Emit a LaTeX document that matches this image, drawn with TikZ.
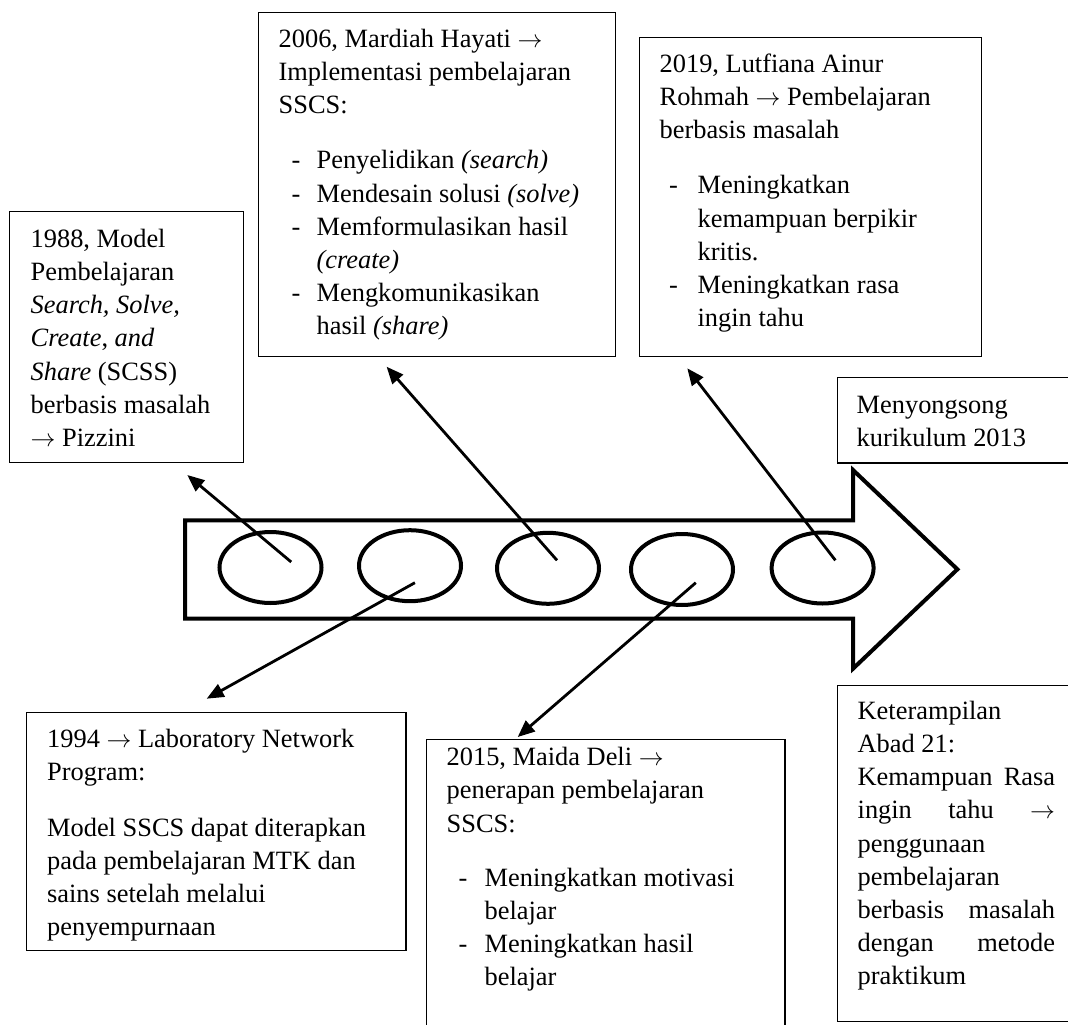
\documentclass[tikz,border=0pt]{standalone}
\usepackage{fontspec}
\setmainfont{Liberation Serif}
\usetikzlibrary{arrows.meta,shapes.geometric}
\newcommand\myitem[2][12]{\mbox{\hspace*{#1pt}\makebox[\dimexpr 38pt-#1pt\relax][l]{-}#2}}
\newcommand\mycont[1]{\mbox{\hspace*{38pt}#1}}
\newcommand\jline[1]{\makebox[197.4pt][s]{#1}}
\newcommand\ar{$\rightarrow$}
\begin{document}
\begin{tikzpicture}[x=1pt,y=-1pt,
  tbox/.style={draw=black, line width=1.3pt, fill=white, anchor=north west, inner sep=0pt,
    font=\fontsize{26.4}{33.2}\selectfont},
  ell/.style={ellipse, draw=black, line width=4pt, fill=white, minimum width=102pt, minimum height=71pt, inner sep=0pt},
  conn/.style={line width=2.8pt, -{Triangle[length=17pt,width=14pt]}},
  barrow/.style={draw=black, line width=4pt, fill=white, line join=miter}
]
\useasboundingbox (0,0) rectangle (1068,1025);
\clip (0,0) rectangle (1068,1025);
\fill[white] (0,0) rectangle (1068,1025);

% big block arrow
\draw[barrow] (185,520.3) -- (853,520.3) -- (853,470) -- (957.4,569.3) -- (853,668.7) -- (853,618.7) -- (185,618.7) -- cycle;

% circles on the arrow
\node[ell] (e1) at (270.5,567.5) {};
\node[ell] (e2) at (410,565.7) {};
\node[ell] (e3) at (548,568.3) {};
\node[ell] (e4) at (682,569.5) {};
\node[ell] (e5) at (822.6,568) {};

% text boxes
\node[tbox, inner xsep=21pt, inner ysep=12.5pt] (b1988) at (9,211)
 {\parbox[t][226pt][t]{192pt}{\strut\mbox{1988, Model}\\
  \mbox{Pembelajaran}\\
  \mbox{\textit{Search, Solve,}}\\
  \mbox{\textit{Create}, \textit{and}}\\
  \mbox{\textit{Share} (SCSS)}\\
  \mbox{berbasis masalah}\\
  \mbox{\ar{} Pizzini}}};

\node[tbox, inner xsep=20pt, inner ysep=11.5pt] (b2006) at (258,12)
 {\parbox[t][321pt][t]{317pt}{\strut\mbox{2006, Mardiah Hayati \ar}\\
  \mbox{Implementasi pembelajaran}\\
  \mbox{SSCS:}\\[22pt]
  \myitem[13]{Penyelidikan \textit{(search)}}\\
  \myitem[13]{Mendesain solusi \textit{(solve)}}\\
  \myitem[13]{Memformulasikan hasil}\\
  \mycont{\textit{(create)}}\\
  \myitem[13]{Mengkomunikasikan}\\
  \mycont{hasil \textit{(share)}}}};

\node[tbox, inner xsep=20pt, inner ysep=11.5pt] (b2019) at (639,37)
 {\parbox[t][296pt][t]{302pt}{\strut\mbox{2019, Lutfiana Ainur}\\
  \mbox{Rohmah \ar{} Pembelajaran}\\
  \mbox{berbasis masalah}\\[22pt]
  \myitem[9.5]{Meningkatkan}\\
  \mycont{kemampuan berpikir}\\
  \mycont{kritis.}\\
  \myitem[9.5]{Meningkatkan rasa}\\
  \mycont{ingin tahu}}};

\node[tbox, inner xsep=19.5pt, inner ysep=13pt] (bkur) at (836.5,376.7)
 {\parbox[t][59.6pt][t]{204.5pt}{\strut\mbox{Menyongsong}\\
  \mbox{kurikulum 2013}}};

\node[tbox, inner xsep=20.5pt, inner ysep=11.8pt] (b1994) at (26,712)
 {\parbox[t][214pt][t]{338.3pt}{\strut\mbox{1994 \ar{} Laboratory Network}\\
  \mbox{Program:}\\[22pt]
  \mbox{Model SSCS dapat diterapkan}\\
  \mbox{pada pembelajaran MTK dan}\\
  \mbox{sains setelah melalui}\\
  \mbox{penyempurnaan}}};

\node[tbox, inner xsep=20.3pt, inner ysep=2.8pt] (b2015) at (425.7,739)
 {\parbox[t][300pt][t]{318pt}{\strut\mbox{2015, Maida Deli \ar}\\
  \mbox{penerapan pembelajaran}\\
  \mbox{SSCS:}\\[21pt]
  \myitem[12]{Meningkatkan motivasi}\\
  \mycont{belajar}\\
  \myitem[12]{Meningkatkan hasil}\\
  \mycont{belajar}}};

\node[tbox, inner xsep=20.5pt, inner ysep=10.8pt] (bket) at (836.5,684.7)
 {\parbox[t][314.7pt][t]{197.4pt}{\strut\mbox{Keterampilan}\\
  \mbox{Abad 21:}\\
  \jline{Kemampuan Rasa}\\
  \jline{ingin tahu \ar}\\
  \mbox{penggunaan}\\
  \mbox{pembelajaran}\\
  \jline{berbasis masalah}\\
  \jline{dengan metode}\\
  \mbox{praktikum}}};

% connector end points
\coordinate (s1) at (291.2,562);   \coordinate (t1) at (187.3,475);
\coordinate (s3) at (557,560.3);   \coordinate (t2) at (386.6,366.7);
\coordinate (s5) at (835.4,560.3); \coordinate (t3) at (687.3,368.3);
\coordinate (s2) at (414.9,582.7); \coordinate (t4) at (206.7,698.7);
\coordinate (s4) at (695.8,582.7); \coordinate (t5) at (517.7,737);

\draw[conn] (s1) -- (t1);
\draw[conn] (s3) -- (t2);
\draw[conn] (s5) -- (t3);
\draw[conn] (s2) -- (t4);
\draw[conn] (s4) -- (t5);
\end{tikzpicture}
\end{document}
